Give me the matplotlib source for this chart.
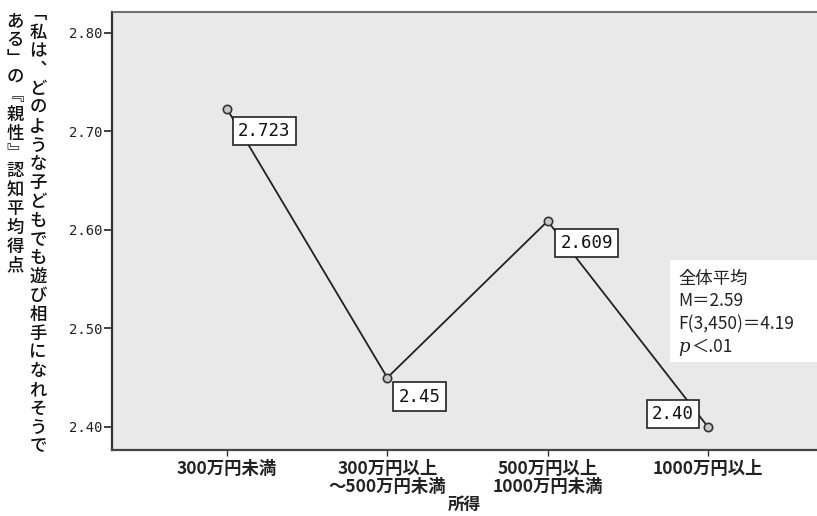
import matplotlib
matplotlib.use('Agg')
import matplotlib.pyplot as plt
from matplotlib.patches import Rectangle

# data
categories = ['300万円未満', '300万円以上\n〜500万円未満', '500万円以上\n1000万円未満', '1000万円以上']
means = [2.723, 2.45, 2.609, 2.40]
value_labels = ['2.723', '2.45', '2.609', '2.40']
yticks = [2.40, 2.50, 2.60, 2.70, 2.80]
ylabel_cols = ['「私は、どのような子どもでも遊び相手になれそうで',
               'ある」の『親性』認知平均得点']
xlabel = '所得'
stats_lines = ['全体平均', 'M＝2.59', 'F(3,450)＝4.19']
p_text = ('p', '＜.01')

W, H = 817, 516
plt.rcParams['font.family'] = ['Noto Sans CJK JP', 'DejaVu Sans']

# vertical forms for the stacked y label
vert = {'「': '﹁', '」': '﹂', '『': '﹃', '』': '﹄', '、': '︑'}

fig = plt.figure(figsize=(W / 100, H / 100), dpi=100)
ax = fig.add_axes([112 / W, 1 - 450 / H, 1 - 112 / W, (450 - 12) / H])
ax.set_facecolor('#e9e9e9')

x = list(range(len(categories)))
ax.plot(x, means, color='#222222', lw=1.3, marker='o', ms=6,
        mfc='#c8c8c8', mec='#333333', mew=1.2, zorder=3)

# value boxes: offset in pixels and alignment
offsets = [(11, -13), (11, -10), (13, -13), (-14, 4)]
aligns = [('left', 'top'), ('left', 'top'), ('left', 'top'), ('right', 'bottom')]
for xi, yi, lab, off, (ha, va) in zip(x, means, value_labels, offsets, aligns):
    ax.annotate(lab, (xi, yi), xytext=off, textcoords='offset pixels',
                ha=ha, va=va, fontsize=12.5, family='DejaVu Sans Mono', color='#111111',
                bbox=dict(boxstyle='square,pad=0.3', fc='white', ec='#222222', lw=1.2),
                zorder=4)

ax.set_xlim(-0.717, 3.68)
ax.set_ylim(2.3766, 2.8213)

ax.spines['right'].set_visible(False)
ax.spines['left'].set_linewidth(1.6)
ax.spines['left'].set_color('#333333')
ax.spines['bottom'].set_linewidth(1.6)
ax.spines['bottom'].set_color('#444444')
ax.spines['top'].set_linewidth(1.2)
ax.spines['top'].set_color('#555555')

ax.set_yticks(yticks)
ax.set_yticklabels([f'{v:.2f}' for v in yticks], family='DejaVu Sans Mono',
                   fontsize=10, color='#222222')
ax.tick_params(axis='y', length=6, width=1.3, pad=1, color='#333333')

ax.set_xticks(x)
ax.set_xticklabels(categories, fontsize=12.5, fontweight='bold', linespacing=1.0, color='#222222')
ax.tick_params(axis='x', length=4, width=1.0, pad=3, color='#333333')
ax.set_xlabel(xlabel, fontsize=12, fontweight='bold', labelpad=0, color='#222222')

# stacked vertical y label, two columns
pitch = 18.8
for col, xc, y0 in zip(ylabel_cols, [38, 15], [14, 21]):
    for i, ch in enumerate(col):
        fig.text(xc / W, 1 - (y0 + i * pitch) / H, vert.get(ch, ch),
                 ha='center', va='center', fontsize=12.5, fontweight='medium', color='#111111')

# overall statistics box
fig.patches.append(Rectangle((670 / W, 1 - 362 / H), (W - 670) / W, 102 / H,
                             transform=fig.transFigure, fc='white', ec='none', zorder=5))
line_pitch = 22.5
for i, line in enumerate(stats_lines):
    fig.text(678 / W, 1 - (279 + i * line_pitch) / H, line, ha='left', va='center',
             fontsize=12.5, color='#222222', zorder=6)
py = 1 - (279 + 3 * line_pitch) / H
fig.text(678 / W, py, p_text[0], ha='left', va='center', fontsize=13,
         style='italic', family='DejaVu Serif', color='#222222', zorder=6)
fig.text(691 / W, py, p_text[1], ha='left', va='center', fontsize=12.5,
         color='#222222', zorder=6)

fig.savefig('out.png', dpi=100)
